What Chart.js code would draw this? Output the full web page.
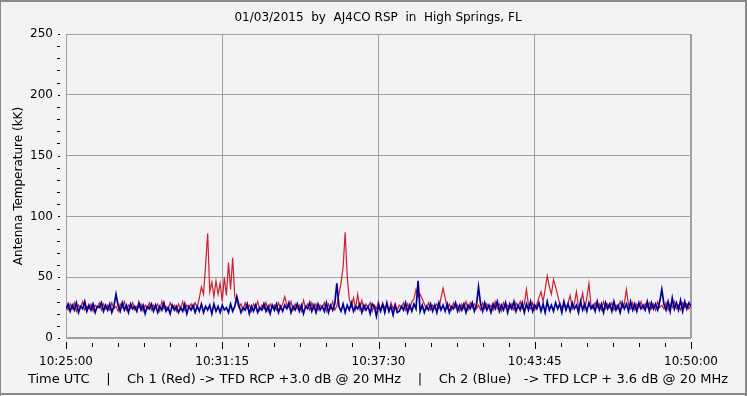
<!DOCTYPE html>
<html><head><meta charset="utf-8">
<script src="https://cdn.jsdelivr.net/npm/chart.js@4/dist/chart.umd.min.js"></script>
<style>html,body{margin:0;padding:0;background:#f3f3f5;}canvas{display:block;}</style>
</head><body>
<canvas id="c" width="747" height="396"></canvas>
<script>
const titleText = '01/03/2015  by  AJ4CO RSP  in  High Springs, FL';
const yAxisTitle = 'Antenna Temperature (kK)';
const xAxisTitle = 'Time UTC    |    Ch 1 (Red) -> TFD RCP +3.0 dB @ 20 MHz    |    Ch 2 (Blue)   -> TFD LCP + 3.6 dB @ 20 MHz';
const sampleStepSec = 5;
const xTickSeconds = [0, 375, 750, 1125, 1500];
const xTickLabels = ['10:25:00', '10:31:15', '10:37:30', '10:43:45', '10:50:00'];
const xMinorStepSec = 62.5;
const yTicks = [0, 50, 100, 150, 200, 250];
const yMinorStep = 10;

const ch1Red = [
26,23,28,24,29,22,27,25,30,23,26,24,28,22,27,25,29,23,28,24,
27,23,29,24,26,22,28,25,30,23,27,24,29,23,26,25,28,22,27,24,
29,23,27,25,28,22,30,24,26,23,29,25,27,22,28,24,30,23,27,25,
28,24,29,25,33,42,36,60,86,38,46,34,47,36,45,30,50,35,62,40,
66,34,30,25,28,23,29,24,27,22,28,25,30,23,27,24,29,22,28,25,
27,23,29,24,28,34,27,25,30,23,28,24,27,22,31,25,28,23,29,24,
28,23,27,25,29,22,28,24,30,23,26,36,45,58,87,50,32,26,33,24,
36,24,31,23,28,25,29,22,27,24,30,23,28,25,27,22,29,24,28,23,
27,25,29,23,28,24,30,32,40,34,36,32,28,24,29,23,27,25,28,24,
33,41,33,24,28,23,29,25,27,22,28,24,30,23,29,25,28,24,27,23,
29,24,28,25,27,23,30,24,28,22,29,25,27,24,28,23,29,25,30,24,
28,40,27,24,29,23,28,33,38,30,40,51,42,36,48,42,35,28,25,29,
24,29,35,24,28,38,25,29,37,24,33,45,27,24,29,25,28,23,30,24,
28,25,29,23,27,24,30,25,28,40,27,24,29,23,28,25,30,24,28,25,
29,24,28,23,30,25,27,24,29,23,28,25,30,24,27,23,29,25,28,24,
27
];

const ch2Blue = [
24,28,22,27,23,29,21,26,24,30,22,27,23,28,21,26,25,29,22,27,
23,28,21,26,36,27,22,29,23,27,21,28,24,26,22,29,23,27,20,26,
24,28,22,27,21,26,23,29,22,25,20,27,23,26,21,25,22,28,20,26,
23,27,21,26,22,28,21,26,23,27,20,28,22,26,21,27,23,25,21,28,
22,26,34,27,21,25,23,28,20,26,22,27,21,25,23,28,22,26,20,27,
23,28,21,26,22,27,24,29,21,26,23,28,22,27,20,26,24,29,22,27,
21,28,23,26,22,29,21,27,23,28,45,26,22,28,21,27,23,29,22,26,
24,28,21,27,23,26,20,28,26,18,27,22,28,21,29,22,26,19,27,21,
22,26,23,29,21,27,22,28,24,47,22,27,21,26,23,28,22,27,21,29,
23,27,22,28,21,26,24,29,22,27,23,28,21,27,24,29,22,27,42,28,
22,29,23,27,21,28,24,30,22,27,23,29,21,28,24,30,22,27,23,29,
21,28,23,30,22,27,24,29,22,28,21,30,23,27,22,29,24,28,21,30,
23,28,22,29,24,27,21,30,23,28,22,29,24,27,22,30,23,28,21,29,
24,28,22,30,23,27,21,29,24,28,22,30,23,28,22,29,24,27,23,30,
22,29,24,28,23,30,40,28,23,30,22,33,24,29,23,31,22,30,24,29,
26
];

const FONT = {family: 'DejaVu Sans', size: 12, weight: 'normal'};
const FONT_BOTTOM = {family: 'DejaVu Sans', size: 13, weight: 'normal'};
const GRID = '#a0a0a0';
const BG = '#f3f3f5';

const framePlugin = {
  id: 'frame',
  beforeDraw(chart) {
    const c = chart.ctx, w = chart.width, h = chart.height;
    c.save();
    c.fillStyle = BG; c.fillRect(0, 0, w, h);
    c.fillStyle = '#8a8a8a';
    c.fillRect(0, 0, w, 2);
    c.fillRect(0, 0, 1, h);
    c.fillRect(w - 2, 0, 2, h);
    c.fillRect(0, h - 3, w, 2);
    c.restore();
  },
  beforeDatasetsDraw(chart) {
    const c = chart.ctx, a = chart.chartArea;
    c.save();
    c.strokeStyle = GRID; c.lineWidth = 1;
    c.strokeRect(Math.round(a.left) + 0.5, Math.round(a.top) + 0.5, Math.round(a.right - a.left) - 1, Math.round(a.bottom - a.top) - 1);
    c.restore();
  },
  afterDraw(chart) {
    const c = chart.ctx, a = chart.chartArea, xs = chart.scales.x, ys = chart.scales.y;
    c.save();
    c.strokeStyle = '#000'; c.lineWidth = 1;
    c.beginPath();
    const nX = Math.round((xs.max - xs.min) / xMinorStepSec);
    for (let k = 0; k <= nX; k++) {
      const v = xs.min + k * xMinorStepSec;
      const px = Math.round(xs.getPixelForValue(v)) + 0.5;
      const major = xTickSeconds.includes(v);
      c.moveTo(px, a.bottom + (major ? 4 : 5));
      c.lineTo(px, a.bottom + (major ? 11 : 9));
    }
    const nY = Math.round((ys.max - ys.min) / yMinorStep);
    for (let k = 0; k <= nY; k++) {
      const v = ys.min + k * yMinorStep;
      const py = Math.round(ys.getPixelForValue(v)) + 0.5;
      const major = yTicks.includes(v);
      c.moveTo(a.left - (major ? 8 : 9), py);
      c.lineTo(a.left - 6, py);
    }
    c.stroke();
    c.restore();
  }
};

new Chart(document.getElementById('c'), {
  type: 'line',
  data: {
    datasets: [
      {label: 'Ch 2 (Blue)', data: ch2Blue.map((v, i) => ({x: i * sampleStepSec, y: v})),
       borderColor: 'rgb(0,0,150)', borderWidth: 1.7, pointRadius: 0, tension: 0, order: 0},
      {label: 'Ch 1 (Red)', data: ch1Red.map((v, i) => ({x: i * sampleStepSec, y: v})),
       borderColor: 'rgb(205,30,45)', borderWidth: 1.2, pointRadius: 0, tension: 0, order: 1}
    ]
  },
  options: {
    responsive: false, animation: false, devicePixelRatio: 1,
    layout: {padding: {left: 9, right: 0, top: 0, bottom: 0}},
    plugins: {
      legend: {display: false}, tooltip: {enabled: false},
      title: {display: true, text: titleText, color: '#000', font: FONT, padding: {top: 11, bottom: 8.6}},
      subtitle: {display: true, position: 'bottom', text: xAxisTitle, color: '#000', font: FONT_BOTTOM, padding: {top: 2.2, bottom: 8.2}}
    },
    scales: {
      x: {
        type: 'linear', min: 0, max: 1500,
        afterBuildTicks: s => { s.ticks = xTickSeconds.map(v => ({value: v})); },
        ticks: {
          callback: v => { const i = xTickSeconds.indexOf(v); return i >= 0 ? xTickLabels[i] : ''; },
          color: '#000', font: FONT, padding: 17, maxRotation: 0, minRotation: 0, autoSkip: false
        },
        grid: {color: GRID, drawTicks: false, lineWidth: 1},
        border: {display: false},
        title: {display: false},
        afterFit: s => { s.height = 32; }
      },
      y: {
        min: 0, max: 250,
        afterBuildTicks: s => { s.ticks = yTicks.map(v => ({value: v})); },
        ticks: {color: '#000', font: FONT, padding: 13, autoSkip: false},
        grid: {color: GRID, drawTicks: false, lineWidth: 1},
        border: {display: false},
        title: {display: true, text: yAxisTitle, color: '#000', font: FONT, padding: {top: 3, bottom: 0}},
        afterFit: s => { s.width = 57; }
      },
      yRightSpace: {
        axis: 'y', position: 'right', min: 0, max: 250,
        ticks: {display: false}, grid: {display: false, drawOnChartArea: false}, border: {display: false},
        afterFit: s => { s.width = 56; }
      }
    }
  },
  plugins: [framePlugin]
});
</script>
</body></html>
